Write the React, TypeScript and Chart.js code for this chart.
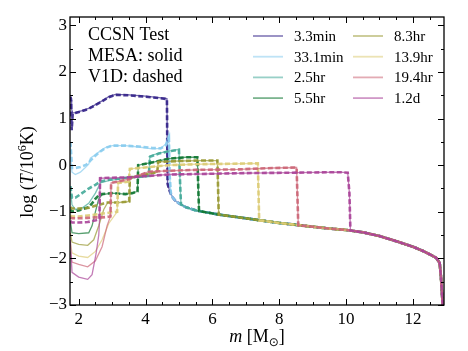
import React, { useEffect, useRef } from 'react';
import { Chart, registerables } from 'chart.js';
Chart.register(...registerables);

const seriesLabels = ['3.3min', '33.1min', '2.5hr', '5.5hr', '8.3hr', '13.9hr', '19.4hr', '1.2d'];
const seriesColors = ['#332288', '#88CCEE', '#44AA99', '#117733', '#999933', '#DDCC77', '#CC6677', '#AA4499'];

const xTickValues = [2, 4, 6, 8, 10, 12];
const yTickValues = [-3, -2, -1, 0, 1, 2, 3];

// shared outer envelope (all profiles follow it outside their shock)
const envM = [4.76, 4.82, 4.9, 5.0, 5.2, 5.5, 5.8, 6.2, 6.6, 7.0, 7.5, 8.0, 8.5, 9.0, 9.5, 10.0, 10.5, 11.0, 11.5, 12.0, 12.3, 12.55, 12.7, 12.8, 12.84, 12.87, 12.89];
const envT = [-0.62, -0.7, -0.77, -0.82, -0.9, -0.97, -1.01, -1.06, -1.1, -1.14, -1.19, -1.24, -1.28, -1.32, -1.36, -1.39, -1.44, -1.52, -1.63, -1.75, -1.84, -1.93, -1.99, -2.1, -2.4, -2.75, -3.0];

// 3.3min
const m3min = [1.75, 1.77, 1.79, 1.82, 1.9, 2.1, 2.3, 2.5, 2.7, 2.9, 3.1, 3.5, 4.0, 4.4, 4.64, 4.66, 4.72];
const mesa3min = [1.47, 1.4, 1.2, 1.12, 1.13, 1.17, 1.22, 1.3, 1.38, 1.47, 1.52, 1.51, 1.48, 1.45, 1.43, -0.4, -0.55];
const v1d3min = [1.47, 1.42, 0.75, 1.1, 1.12, 1.16, 1.21, 1.29, 1.37, 1.46, 1.51, 1.5, 1.47, 1.44, 1.42, -0.4, -0.55];

// 33.1min
const m33min = [1.75, 1.77, 1.8, 1.9, 2.05, 2.2, 2.3, 2.35, 2.45, 2.6, 2.8, 3.0, 3.4, 3.8, 4.2, 4.45, 4.6, 4.7, 4.72, 4.76];
const mesa33min = [0.5, 0.1, -0.15, -0.2, -0.15, -0.05, 0.02, 0.15, 0.2, 0.28, 0.38, 0.42, 0.42, 0.39, 0.35, 0.36, 0.45, 0.66, -0.2, -0.62];
const v1d33min = [0.5, 0.3, -0.06, -0.06, -0.04, 0.0, 0.05, 0.1, 0.17, 0.27, 0.37, 0.42, 0.42, 0.4, 0.37, 0.36, 0.42, 0.58, -0.2, -0.62];

// 2.5hr
const m25hr = [1.75, 1.8, 1.9, 2.1, 2.3, 2.5, 2.65, 2.9, 3.2, 3.5, 3.8, 4.1, 4.13, 4.4, 4.7, 5.0, 5.03, 5.06];
const mesa25hr = [-0.5, -0.85, -0.95, -0.92, -0.82, -0.6, -0.38, -0.33, -0.3, -0.27, -0.26, -0.24, 0.2, 0.26, 0.3, 0.34, -0.3, -0.84];
const v1d25hr = [-0.45, -0.7, -0.7, -0.6, -0.5, -0.42, -0.35, -0.31, -0.29, -0.26, -0.25, -0.23, 0.18, 0.25, 0.3, 0.33, -0.3, -0.84];

// 5.5hr
const m55hr = [1.75, 1.8, 2.0, 2.3, 2.4, 2.5, 2.6, 2.7, 3.0, 3.4, 3.6, 3.76, 3.78, 4.2, 4.7, 5.2, 5.55, 5.6];
const mesa55hr = [-1.2, -1.45, -1.47, -1.45, -1.3, -1.0, -0.72, -0.63, -0.6, -0.62, -0.6, -0.56, 0.0, 0.06, 0.14, 0.17, 0.17, -0.98];
const v1d55hr = [-0.95, -1.0, -0.97, -0.9, -0.82, -0.72, -0.65, -0.62, -0.6, -0.62, -0.6, -0.56, 0.0, 0.06, 0.14, 0.17, 0.17, -0.98];

// 8.3hr
const m83hr = [1.75, 1.8, 2.0, 2.27, 2.45, 2.6, 2.75, 2.87, 3.2, 3.51, 3.53, 4.0, 4.35, 4.38, 5.0, 5.6, 6.15, 6.19];
const mesa83hr = [-1.45, -1.65, -1.7, -1.72, -1.6, -1.3, -0.95, -0.8, -0.8, -0.78, -0.27, -0.2, -0.15, 0.07, 0.09, 0.1, 0.1, -1.06];
const v1d83hr = [-0.9, -0.93, -0.93, -0.92, -0.88, -0.85, -0.82, -0.8, -0.8, -0.78, -0.27, -0.2, -0.15, 0.07, 0.09, 0.1, 0.1, -1.06];

// 13.9hr
const m139hr = [1.75, 1.8, 2.0, 2.27, 2.5, 2.7, 2.9, 3.15, 3.18, 3.5, 3.53, 4.1, 4.7, 5.5, 6.5, 7.36, 7.4];
const mesa139hr = [-1.65, -1.88, -1.95, -1.98, -1.85, -1.6, -1.25, -1.0, -0.38, -0.35, -0.08, -0.04, 0.0, 0.02, 0.03, 0.04, -1.19];
const v1d139hr = [-1.08, -1.1, -1.1, -1.08, -1.06, -1.04, -1.02, -1.0, -0.38, -0.35, -0.08, -0.04, 0.0, 0.02, 0.03, 0.04, -1.19];

// 19.4hr
const m194hr = [1.75, 1.8, 2.0, 2.27, 2.5, 2.7, 2.85, 2.95, 2.97, 3.5, 4.1, 4.7, 5.5, 6.8, 7.8, 8.52, 8.57];
const mesa194hr = [-1.85, -2.08, -2.13, -2.18, -2.05, -1.75, -1.3, -1.1, -0.38, -0.3, -0.14, -0.12, -0.1, -0.09, -0.06, -0.05, -1.29];
const v1d194hr = [-1.12, -1.14, -1.14, -1.13, -1.12, -1.12, -1.11, -1.1, -0.38, -0.3, -0.14, -0.12, -0.1, -0.09, -0.06, -0.05, -1.29];

// 1.2d
const m12d = [1.75, 1.8, 2.0, 2.27, 2.4, 2.52, 2.6, 2.62, 2.64, 3.0, 3.5, 4.1, 4.7, 5.5, 7.0, 8.5, 9.8, 10.05, 10.1, 10.13];
const mesa12d = [-1.6, -2.3, -2.4, -2.45, -2.35, -1.9, -1.5, -1.25, -0.28, -0.27, -0.26, -0.23, -0.2, -0.19, -0.17, -0.16, -0.15, -0.16, -0.6, -1.4];
const v1d12d = [-1.2, -1.23, -1.23, -1.22, -1.2, -1.18, -1.16, -1.15, -0.28, -0.27, -0.26, -0.23, -0.2, -0.19, -0.17, -0.16, -0.15, -0.16, -0.6, -1.4];

const massGrids = [m3min, m33min, m25hr, m55hr, m83hr, m139hr, m194hr, m12d];
const mesaSeries = [mesa3min, mesa33min, mesa25hr, mesa55hr, mesa83hr, mesa139hr, mesa194hr, mesa12d];
const v1dSeries = [v1d3min, v1d33min, v1d25hr, v1d55hr, v1d83hr, v1d139hr, v1d194hr, v1d12d];

const X_MIN = 1.74;
const X_MAX = 12.93;
const Y_MIN = -3;
const Y_MAX = 3.18;

function rgba(hex: string, a: number) {
  const n = parseInt(hex.slice(1), 16);
  return `rgba(${(n >> 16) & 255},${(n >> 8) & 255},${n & 255},${a})`;
}

function buildPoints(ms: number[], ts: number[]) {
  const pts = ms.map((m, i) => ({ x: m, y: ts[i] }));
  const last = ms[ms.length - 1];
  envM.forEach((m, i) => {
    if (m > last) pts.push({ x: m, y: envT[i] });
  });
  return pts;
}

const SERIF = '"Liberation Serif", "DejaVu Serif", serif';

const decorPlugin = {
  id: 'decor',
  afterDraw(chart: any) {
    const { ctx, chartArea } = chart;
    const { left, right, top, bottom } = chartArea;
    const xs = chart.scales.x;
    const ys = chart.scales.y;
    ctx.save();
    // frame
    ctx.strokeStyle = '#000';
    ctx.lineWidth = 1.3;
    ctx.strokeRect(left, top, right - left, bottom - top);
    // ticks
    ctx.lineWidth = 1;
    ctx.beginPath();
    for (let v = 2; v <= 12.9; v += 0.5) {
      const px = Math.round(xs.getPixelForValue(v)) + 0.5;
      const major = Math.abs(v / 2 - Math.round(v / 2)) < 1e-6;
      const len = major ? 6 : 3;
      ctx.moveTo(px, bottom);
      ctx.lineTo(px, bottom - len);
      ctx.moveTo(px, top);
      ctx.lineTo(px, top + len);
    }
    for (let v = -3; v <= 3.01; v += 0.5) {
      const py = Math.round(ys.getPixelForValue(v)) + 0.5;
      const major = Math.abs(v - Math.round(v)) < 1e-6;
      const len = major ? 6 : 3;
      ctx.moveTo(left, py);
      ctx.lineTo(left + len, py);
      ctx.moveTo(right, py);
      ctx.lineTo(right - len, py);
    }
    ctx.stroke();

    // annotation text
    ctx.fillStyle = '#000';
    ctx.font = `18px ${SERIF}`;
    ctx.textAlign = 'left';
    ctx.textBaseline = 'alphabetic';
    ctx.fillText('CCSN Test', 88, 40);
    ctx.fillText('MESA: solid', 88, 61);
    ctx.fillText('V1D: dashed', 88, 82);

    // legend (2 columns x 4 rows)
    ctx.font = `15px ${SERIF}`;
    ctx.textBaseline = 'middle';
    seriesLabels.forEach((lab, i) => {
      const col = Math.floor(i / 4);
      const row = i % 4;
      const lx = col === 0 ? 253 : 353;
      const ly = 36 + row * 20.7;
      ctx.strokeStyle = rgba(seriesColors[i], 0.55);
      ctx.lineWidth = 1.8;
      ctx.setLineDash([]);
      ctx.beginPath();
      ctx.moveTo(lx, ly);
      ctx.lineTo(lx + 30, ly);
      ctx.stroke();
      ctx.fillStyle = '#000';
      ctx.fillText(lab, lx + 41, ly + 1);
    });

    // x-axis title: m [M_sun]
    ctx.textBaseline = 'alphabetic';
    const xc = (left + right) / 2;
    const xb = 342;
    const parts: [string, string, number][] = [
      ['m', `italic 18px ${SERIF}`, 0],
      [' [M', `18px ${SERIF}`, 0],
      ['\u2299', `12px "DejaVu Sans", sans-serif`, 4],
      [']', `18px ${SERIF}`, 0],
    ];
    let total = 0;
    parts.forEach(([t, f]) => { ctx.font = f; total += ctx.measureText(t).width; });
    let cx = xc - total / 2;
    parts.forEach(([t, f, dy]) => {
      ctx.font = f;
      ctx.fillText(t, cx, xb + dy);
      cx += ctx.measureText(t).width;
    });

    // y-axis title: log (T/10^6 K)
    ctx.save();
    ctx.translate(33, (top + bottom) / 2 + 11);
    ctx.rotate(-Math.PI / 2);
    const yparts: [string, string, number][] = [
      ['log (', `18px ${SERIF}`, 0],
      ['T', `italic 18px ${SERIF}`, 0],
      ['/10', `18px ${SERIF}`, 0],
      ['6', `12px ${SERIF}`, -7],
      ['K)', `18px ${SERIF}`, 0],
    ];
    let ytot = 0;
    yparts.forEach(([t, f]) => { ctx.font = f; ytot += ctx.measureText(t).width; });
    let yx = -ytot / 2;
    yparts.forEach(([t, f, dy]) => {
      ctx.font = f;
      ctx.fillText(t, yx, dy);
      yx += ctx.measureText(t).width;
    });
    ctx.restore();

    ctx.restore();
  },
};

export default function App() {
  const ref = useRef<HTMLCanvasElement | null>(null);
  useEffect(() => {
    if (!ref.current) return;
    const datasets: any[] = [];
    seriesLabels.forEach((lab, i) => {
      // matplotlib-like stacking: later series (and dashed over solid) on top
      datasets.push({
        label: lab + ' MESA',
        data: buildPoints(massGrids[i], mesaSeries[i]),
        borderColor: rgba(seriesColors[i], 0.7),
        borderWidth: 1.3,
        showLine: true,
        pointRadius: 0,
        tension: 0,
        order: 100 - 2 * i,
      });
      datasets.push({
        label: lab + ' V1D',
        data: buildPoints(massGrids[i], v1dSeries[i]),
        borderColor: rgba(seriesColors[i], 0.9),
        borderWidth: 2.6,
        borderDash: [5, 2.5],
        showLine: true,
        pointRadius: 0,
        tension: 0,
        order: 99 - 2 * i,
      });
    });
    const chart = new Chart(ref.current, {
      type: 'scatter',
      data: { datasets },
      options: {
        animation: false,
        responsive: false,
        maintainAspectRatio: false,
        layout: { padding: { left: 8, right: 24, top: 17, bottom: 0 } },
        plugins: { legend: { display: false }, tooltip: { enabled: false } },
        scales: {
          x: {
            type: 'linear',
            min: X_MIN,
            max: X_MAX,
            grid: { display: false, drawTicks: false },
            border: { display: false },
            afterBuildTicks: (s: any) => { s.ticks = xTickValues.map((v) => ({ value: v })); },
            afterFit: (s: any) => { s.height = 46; },
            ticks: {
              color: '#000',
              font: { family: SERIF, size: 17 },
              padding: 4,
              maxRotation: 0,
              autoSkip: false,
              callback: (v: any) => String(v),
            },
          },
          y: {
            type: 'linear',
            min: Y_MIN,
            max: Y_MAX,
            grid: { display: false, drawTicks: false },
            border: { display: false },
            afterBuildTicks: (s: any) => { s.ticks = yTickValues.map((v) => ({ value: v })); },
            afterFit: (s: any) => { s.width = 62; },
            ticks: {
              color: '#000',
              font: { family: SERIF, size: 17 },
              padding: 3,
              autoSkip: false,
              callback: (v: any) => (v < 0 ? '\u2212' + Math.abs(v) : String(v)),
            },
          },
        },
      },
      plugins: [decorPlugin],
    });
    return () => chart.destroy();
  }, []);
  return (
    <div style={{ position: 'absolute', left: 0, top: 0, width: 468, height: 351, background: '#fff' }}>
      <canvas ref={ref} width={468} height={351} style={{ width: 468, height: 351 }} />
    </div>
  );
}
